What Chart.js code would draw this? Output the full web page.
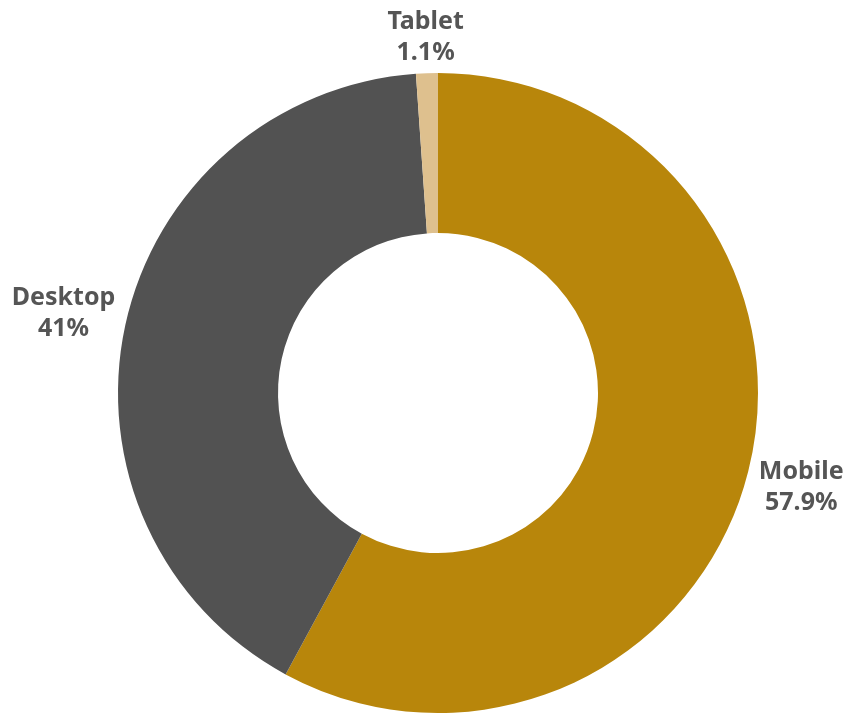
<!DOCTYPE html>
<html>
<head>
<meta charset="utf-8">
<script src="https://cdn.jsdelivr.net/npm/chart.js@4"></script>
<style>
html,body{margin:0;padding:0;background:#fff;}
#wrap{width:854px;height:713px;}
</style>
</head>
<body>
<div id="wrap"><canvas id="c"></canvas></div>
<script>
const categories = ["Mobile", "Desktop", "Tablet"];
const shares = [57.9, 41, 1.1];
const shareLabels = ["57.9%", "41%", "1.1%"];
const colors = ["#B8860B", "#525252", "#DEC08E"];

const outsideLabels = {
  id: 'outsideLabels',
  afterDatasetsDraw(chart) {
    const ctx = chart.ctx;
    const meta = chart.getDatasetMeta(0);
    ctx.save();
    ctx.font = "bold 25px 'Noto Sans'";
    ctx.fillStyle = "#555555";
    ctx.textAlign = "center";
    ctx.textBaseline = "middle";
    const lineH = 31;
    meta.data.forEach((arc, i) => {
      const p = arc.getProps(['x','y','startAngle','endAngle','outerRadius'], true);
      const mid = (p.startAngle + p.endAngle) / 2;
      const dx = Math.cos(mid), dy = Math.sin(mid);
      const lines = [categories[i], shareLabels[i]];
      const w = Math.max(...lines.map(l => ctx.measureText(l).width));
      const h = lineH * lines.length;
      const ext = Math.abs(dx) * w / 2 + Math.abs(dy) * h / 2;
      const r = p.outerRadius + 6 + ext;
      const cx = p.x + dx * r, cy = p.y + dy * r + 2;
      lines.forEach((l, j) => {
        ctx.fillText(l, cx, cy - h / 2 + lineH * (j + 0.5));
      });
    });
    ctx.restore();
  }
};

new Chart(document.getElementById('c'), {
  type: 'doughnut',
  data: {
    labels: categories,
    datasets: [{
      data: shares,
      backgroundColor: colors,
      borderWidth: 0
    }]
  },
  options: {
    responsive: true,
    maintainAspectRatio: false,
    animation: false,
    cutout: '50%',
    layout: { padding: { top: 73, bottom: 0, left: 118, right: 96 } },
    plugins: { legend: { display: false }, tooltip: { enabled: false } }
  },
  plugins: [outsideLabels]
});
</script>
</body>
</html>
